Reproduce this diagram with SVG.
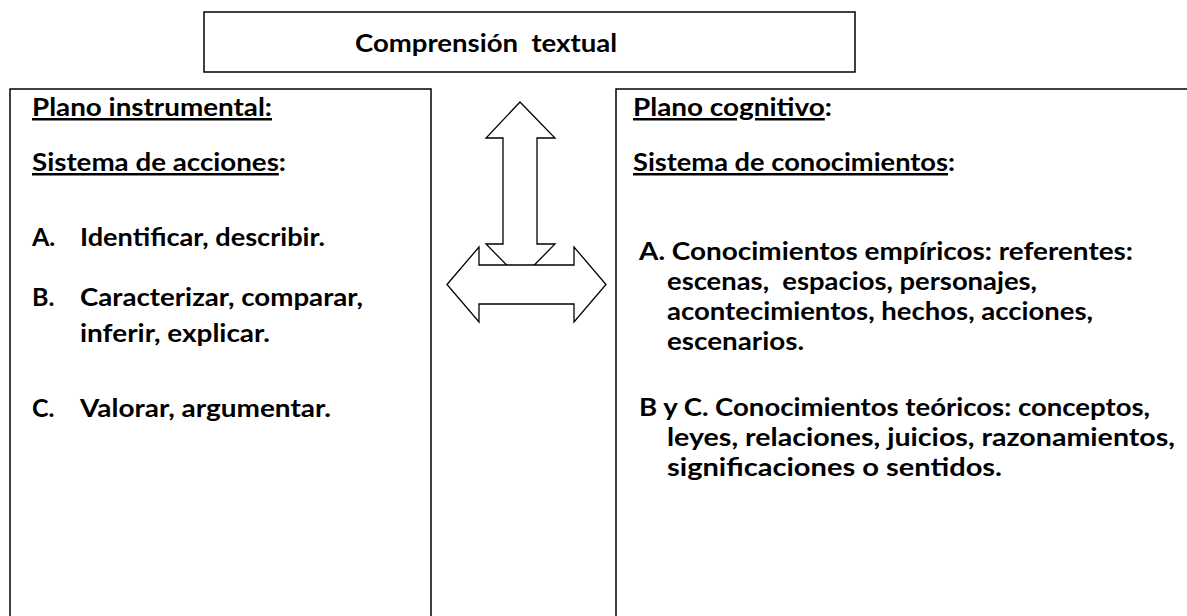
<svg xmlns="http://www.w3.org/2000/svg" width="1187" height="616" viewBox="0 0 1187 616">
<style>
.box{fill:#fff;stroke:#000;stroke-width:1.5}
.arr{fill:#fff;stroke:#000;stroke-width:1.3;stroke-linejoin:miter}
text{font-family:Lato,"Open Sans","Liberation Sans",sans-serif;font-weight:bold;font-size:25px;fill:#000}
.u{text-decoration:underline}
</style>
<rect width="1187" height="616" fill="#fff"/>
<g id="node-title">
<rect class="box" x="204" y="12" width="651" height="60"/>
<text x="355" y="52" xml:space="preserve" textLength="262" lengthAdjust="spacingAndGlyphs">Comprensión  textual</text>
</g>
<g id="node-instrumental">
<rect class="box" x="10" y="89" width="421" height="600"/>
<text x="32" y="116" textLength="240" lengthAdjust="spacingAndGlyphs"><tspan class="u">Plano instrumental:</tspan></text>
<text x="32" y="171" textLength="254" lengthAdjust="spacingAndGlyphs"><tspan class="u">Sistema de acciones</tspan>:</text>
<text x="32" y="246">A.</text><text x="80" y="246" textLength="245" lengthAdjust="spacingAndGlyphs">Identificar, describir.</text>
<text x="32" y="306">B.</text><text x="80" y="306" textLength="283" lengthAdjust="spacingAndGlyphs">Caracterizar, comparar,</text>
<text x="80" y="342" textLength="190" lengthAdjust="spacingAndGlyphs">inferir, explicar.</text>
<text x="32" y="417">C.</text><text x="80" y="417" textLength="251" lengthAdjust="spacingAndGlyphs">Valorar, argumentar.</text>
</g>
<g id="node-cognitivo">
<rect class="box" x="616" y="89" width="620" height="600"/>
<text x="633" y="116" textLength="199" lengthAdjust="spacingAndGlyphs"><tspan class="u">Plano cognitivo</tspan>:</text>
<text x="633" y="171" textLength="322" lengthAdjust="spacingAndGlyphs"><tspan class="u">Sistema de conocimientos</tspan>:</text>
<text x="639" y="260" textLength="494" lengthAdjust="spacingAndGlyphs">A. Conocimientos empíricos: referentes:</text>
<text x="667" y="290" xml:space="preserve" textLength="370" lengthAdjust="spacingAndGlyphs">escenas,  espacios, personajes,</text>
<text x="667" y="320" textLength="426" lengthAdjust="spacingAndGlyphs">acontecimientos, hechos, acciones,</text>
<text x="667" y="350" textLength="137" lengthAdjust="spacingAndGlyphs">escenarios.</text>
<text x="639" y="416" textLength="511" lengthAdjust="spacingAndGlyphs">B y C. Conocimientos teóricos: conceptos,</text>
<text x="667" y="446" textLength="508" lengthAdjust="spacingAndGlyphs">leyes, relaciones, juicios, razonamientos,</text>
<text x="667" y="476" textLength="335" lengthAdjust="spacingAndGlyphs">significaciones o sentidos.</text>
</g>
<g id="connectors">
<polygon class="arr" points="520,102 555,138 537,138 537,244 555,244 520.5,279 486,244 503,244 503,138 486,138"/>
<polygon class="arr" points="447,284.5 479,247 479,265 574,265 574,247 606,284.5 574,322 574,304 479,304 479,322"/>
</g>
</svg>
